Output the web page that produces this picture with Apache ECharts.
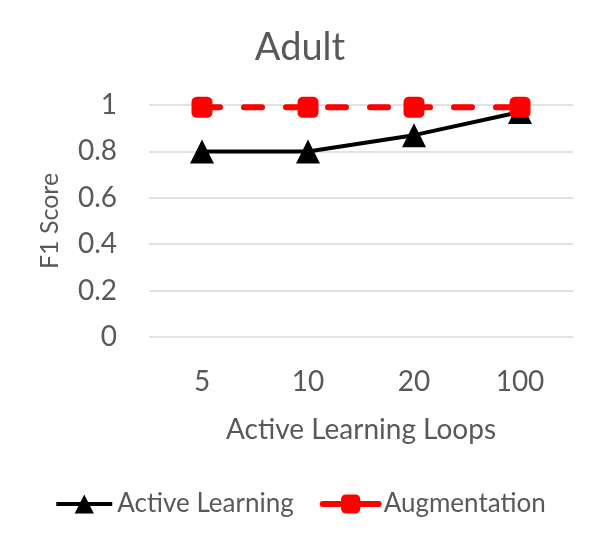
<!DOCTYPE html>
<html>
<head>
<meta charset="utf-8">
<script src="https://cdn.jsdelivr.net/npm/echarts@6/dist/echarts.min.js"></script>
<style>
  html, body { margin: 0; padding: 0; background: #fff; }
  #main { width: 600px; height: 544px; }
</style>
</head>
<body>
<div id="main"></div>
<script>
// data
var loops = ['5', '10', '20', '100'];
var activeLearning = [0.8, 0.8, 0.87, 0.97];
var augmentation = [0.99, 0.99, 0.99, 0.99];

var font = 'Lato, "Open Sans", sans-serif';
var grey = '#595959';

var chart = echarts.init(document.getElementById('main'));
chart.setOption({
  animation: false,
  backgroundColor: '#fff',
  title: {
    text: 'Adult',
    left: 'center',
    top: 24,
    textStyle: { fontFamily: font, fontSize: 38, fontWeight: 'normal', color: grey }
  },
  legend: {
    top: 486,
    left: 'center',
    itemWidth: 56,
    itemHeight: 24,
    itemGap: 26,
    textStyle: { fontFamily: font, fontSize: 26, color: grey },
    data: [
      { name: 'Active Learning', lineStyle: { width: 4 } },
      { name: 'Augmentation', lineStyle: { width: 6, type: 'solid' } }
    ]
  },
  grid: { left: 149, right: 27, top: 105, bottom: 207 },
  xAxis: {
    type: 'category',
    data: loops,
    name: 'Active Learning Loops',
    nameLocation: 'middle',
    nameGap: 79,
    nameTextStyle: { fontFamily: font, fontSize: 28, color: grey },
    axisLine: { show: false },
    axisTick: { show: false },
    axisLabel: { fontFamily: font, fontSize: 28, color: grey, margin: 31 }
  },
  yAxis: {
    type: 'value',
    min: 0,
    max: 1,
    interval: 0.2,
    name: 'F1 Score',
    nameLocation: 'middle',
    nameGap: 87,
    nameTextStyle: { fontFamily: font, fontSize: 25, color: grey },
    axisLabel: { fontFamily: font, fontSize: 28, color: grey, margin: 32 },
    splitLine: { lineStyle: { color: '#d9d9d9', width: 1.5 } }
  },
  series: [
    {
      name: 'Active Learning',
      type: 'line',
      data: activeLearning,
      symbol: 'triangle',
      symbolSize: 24,
      color: '#000',
      lineStyle: { color: '#000', width: 4 },
      itemStyle: { color: '#000' },
      z: 2
    },
    {
      name: 'Augmentation',
      type: 'line',
      data: augmentation,
      symbol: 'roundRect',
      symbolSize: 21,
      color: '#ff0000',
      lineStyle: { color: '#ff0000', width: 6, type: [18, 24], cap: 'round' },
      itemStyle: { color: '#ff0000' },
      z: 3
    }
  ]
});
</script>
</body>
</html>
